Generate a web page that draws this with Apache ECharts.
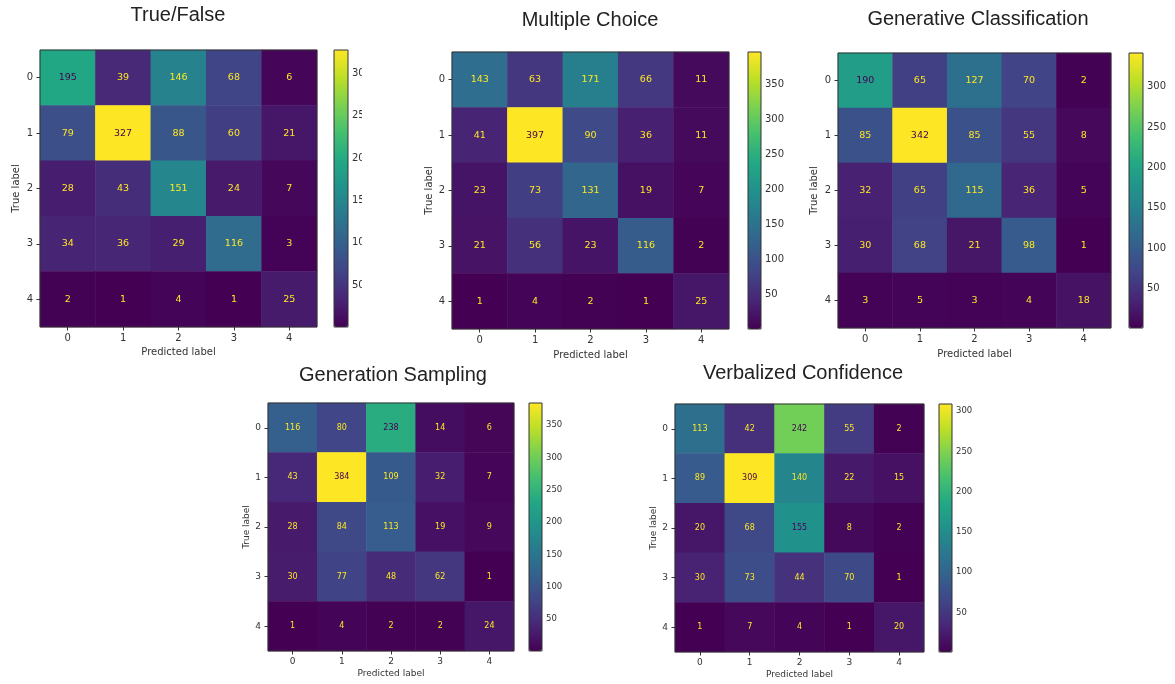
<!DOCTYPE html>
<html>
<head>
<meta charset="utf-8">
<script src="https://cdn.jsdelivr.net/npm/echarts@6/dist/echarts.min.js"></script>
<style>
  html, body { margin: 0; background: #fff; }
  #container { width: 1175px; height: 684px; }
</style>
</head>
<body>
<div id="container"></div>
<script>
const classLabels = ["0", "1", "2", "3", "4"];

const trueFalse = [
  [195, 39, 146, 68, 6],
  [79, 327, 88, 60, 21],
  [28, 43, 151, 24, 7],
  [34, 36, 29, 116, 3],
  [2, 1, 4, 1, 25],
];
const multipleChoice = [
  [143, 63, 171, 66, 11],
  [41, 397, 90, 36, 11],
  [23, 73, 131, 19, 7],
  [21, 56, 23, 116, 2],
  [1, 4, 2, 1, 25],
];
const generativeClassification = [
  [190, 65, 127, 70, 2],
  [85, 342, 85, 55, 8],
  [32, 65, 115, 36, 5],
  [30, 68, 21, 98, 1],
  [3, 5, 3, 4, 18],
];
const generationSampling = [
  [116, 80, 238, 14, 6],
  [43, 384, 109, 32, 7],
  [28, 84, 113, 19, 9],
  [30, 77, 48, 62, 1],
  [1, 4, 2, 2, 24],
];
const verbalizedConfidence = [
  [113, 42, 242, 55, 2],
  [89, 309, 140, 22, 15],
  [20, 68, 155, 8, 2],
  [30, 73, 44, 70, 1],
  [1, 7, 4, 1, 20],
];

const titles = ["True/False", "Multiple Choice", "Generative Classification", "Generation Sampling", "Verbalized Confidence"];
const matrices = [trueFalse, multipleChoice, generativeClassification, generationSampling, verbalizedConfidence];
const colorbarTicks = [
  [50, 100, 150, 200, 250, 300],
  [50, 100, 150, 200, 250, 300, 350],
  [50, 100, 150, 200, 250, 300],
  [50, 100, 150, 200, 250, 300, 350],
  [50, 100, 150, 200, 250, 300],
];

const viridis = ["#440154", "#482475", "#414487", "#355f8d", "#2a788e", "#21918c",
  "#22a884", "#44bf70", "#7ad151", "#bddf26", "#fde725"];

// plot box, colorbar box, title position and font sizes of each panel (px)
const panels = [
  { x: 40, y: 50, w: 277, h: 277, cbx: 334, cbw: 14, tx: 178, ty: 15, fs: 10, cell: 9.5, cbfs: 10, gapX: 20, gapY: 19 },
  { x: 452, y: 52, w: 277, h: 277, cbx: 748, cbw: 13, tx: 590, ty: 20, fs: 10, cell: 9.5, cbfs: 10, gapX: 21, gapY: 18 },
  { x: 838, y: 53, w: 273, h: 275, cbx: 1129, cbw: 14, tx: 978, ty: 19, fs: 10, cell: 9.5, cbfs: 10, gapX: 21, gapY: 19 },
  { x: 268, y: 403, w: 246, h: 248, cbx: 529, cbw: 13, tx: 393, ty: 375, fs: 9, cell: 8, cbfs: 8.5, gapX: 18, gapY: 17 },
  { x: 675, y: 404, w: 249, h: 248, cbx: 939, cbw: 13, tx: 803, ty: 373, fs: 9, cell: 8, cbfs: 8.5, gapX: 18, gapY: 16 },
];

const font = "DejaVu Sans";
const ink = "#333";

const grid = [], xAxis = [], yAxis = [], series = [], visualMap = [], graphic = [];

panels.forEach((p, i) => {
  const m = matrices[i];
  const flat = m.flat();
  const lo = Math.min(...flat);
  const hi = Math.max(...flat);
  const mid = (lo + hi) / 2;

  // heatmap
  grid.push({ left: p.x, top: p.y, width: p.w, height: p.h, show: true,
    borderColor: ink, borderWidth: 1, backgroundColor: "transparent", z: 5, outerBoundsMode: "none" });
  xAxis.push({
    gridIndex: 2 * i, type: "category", data: classLabels,
    name: "Predicted label", nameLocation: "middle", nameGap: p.gapX,
    nameTextStyle: { fontFamily: font, fontSize: p.fs, color: ink },
    axisLine: { show: false },
    axisTick: { show: true, alignWithLabel: true, length: 3.5, lineStyle: { color: ink } },
    axisLabel: { fontFamily: font, fontSize: p.fs, color: ink, margin: 6 },
    splitLine: { show: false },
  });
  yAxis.push({
    gridIndex: 2 * i, type: "category", data: classLabels, inverse: true,
    name: "True label", nameLocation: "middle", nameGap: p.gapY, nameRotate: 90,
    nameTextStyle: { fontFamily: font, fontSize: p.fs, color: ink },
    axisLine: { show: false },
    axisTick: { show: true, alignWithLabel: true, length: 3.5, lineStyle: { color: ink } },
    axisLabel: { fontFamily: font, fontSize: p.fs, color: ink, margin: 7 },
    splitLine: { show: false },
  });
  const data = [];
  m.forEach((row, r) => row.forEach((v, c) => {
    data.push({ value: [c, r, v], label: { color: v < mid ? "#fde725" : "#440154" } });
  }));
  series.push({
    type: "heatmap", xAxisIndex: 2 * i, yAxisIndex: 2 * i, data: data,
    label: { show: true, fontFamily: font, fontSize: p.cell },
    itemStyle: { borderWidth: 0 },
    emphasis: { disabled: true },
  });
  visualMap.push({
    type: "continuous", seriesIndex: i, min: lo, max: hi,
    inRange: { color: viridis },
    left: p.cbx, top: p.y, itemWidth: p.cbw, itemHeight: p.h,
    padding: 0, calculable: false, hoverLink: false, orient: "vertical",
  });

  // colorbar axis + outline
  grid.push({ left: p.cbx, top: p.y, width: p.cbw, height: p.h, show: true,
    borderColor: ink, borderWidth: 1, backgroundColor: "transparent", z: 10, outerBoundsMode: "none" });
  xAxis.push({ gridIndex: 2 * i + 1, type: "value", show: false, min: 0, max: 1 });
  yAxis.push({
    gridIndex: 2 * i + 1, type: "value", position: "right", min: lo, max: hi,
    axisLine: { show: false },
    axisTick: { show: true, length: 3.5, customValues: colorbarTicks[i], lineStyle: { color: ink } },
    axisLabel: { customValues: colorbarTicks[i], fontFamily: font, fontSize: p.cbfs, color: ink, margin: 4 },
    splitLine: { show: false },
  });

  graphic.push({
    type: "text", x: p.tx, y: p.ty, z: 100,
    style: { text: titles[i], textAlign: "center", textVerticalAlign: "middle",
      fontFamily: "Liberation Sans", fontSize: 20, fill: "#222" },
  });
});

// the first panel's colorbar labels are cut off in the source image
graphic.push({ type: "rect", z: 100, shape: { x: 362, y: 45, width: 40, height: 290 }, style: { fill: "#fff" } });

const dom = document.getElementById("container");
const myChart = echarts.init(dom, null, { renderer: "canvas" });
myChart.setOption({
  backgroundColor: "#fff",
  animation: false,
  grid, xAxis, yAxis, series, visualMap, graphic,
});
</script>
</body>
</html>
